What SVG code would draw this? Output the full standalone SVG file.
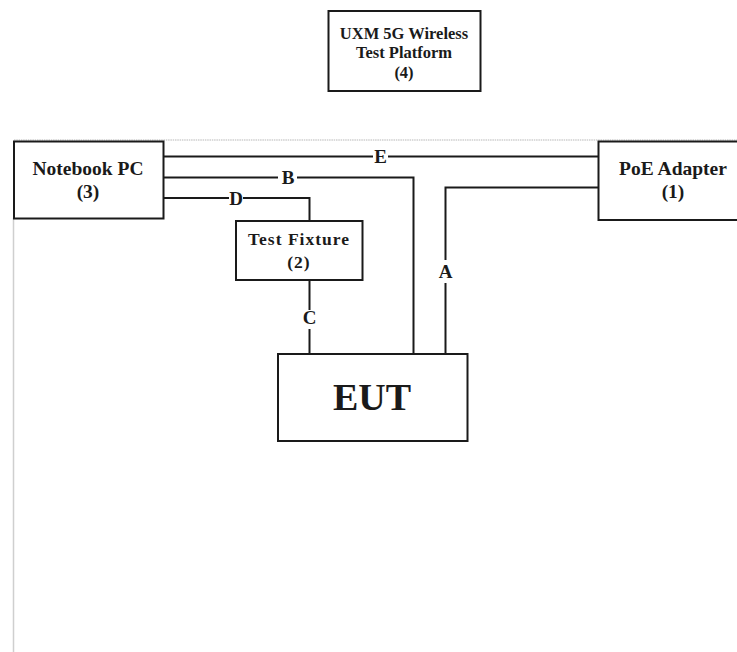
<svg xmlns="http://www.w3.org/2000/svg" width="737" height="652" viewBox="0 0 737 652">
<style>
.box{fill:#fff;stroke:#1a1a1a;stroke-width:2}
.t{font-family:"Liberation Serif","Times New Roman",serif;font-weight:bold;fill:#1a1a1a;text-anchor:middle}
.lb{font-size:19px}
.w{fill:none;stroke:#1a1a1a;stroke-width:2}
.g{fill:none;stroke:#cfcfcf;stroke-width:1.5}
</style>
<rect width="737" height="652" fill="#fff"/>
<g id="frame">
<line class="g" x1="14" y1="140" x2="737" y2="140" stroke-dasharray="1.5 0.8"/>
<line class="g" x1="13.5" y1="218" x2="13.5" y2="652"/>
</g>
<g id="connectors">
<path class="w" d="M164 156.5H373M388 156.5H598"/>
<path class="w" d="M164 177.5H278M297 177.5H413.5V354"/>
<path class="w" d="M164 198H229M243 198H309.5V221"/>
<path class="w" d="M309.5 280V310M309.5 329V354"/>
<path class="w" d="M598 187.5H445.5V260M445.5 283V354"/>
<text class="t lb" x="380.5" y="163">E</text>
<text class="t lb" x="288" y="184">B</text>
<text class="t lb" x="236" y="204.5">D</text>
<text class="t lb" x="309.5" y="323.5">C</text>
<text class="t lb" x="445.5" y="278">A</text>
</g>
<g id="uxm">
<rect class="box" x="328.5" y="11" width="152" height="80"/>
<text class="t" x="404" y="38.5" font-size="16.5">UXM 5G Wireless</text>
<text class="t" x="404" y="58" font-size="16.5">Test Platform</text>
<text class="t" x="404" y="77.5" font-size="16.5">(4)</text>
</g>
<g id="notebook">
<rect class="box" x="14" y="141.5" width="149.5" height="77"/>
<text class="t" x="88" y="174.5" font-size="19.5">Notebook PC</text>
<text class="t" x="88" y="197.5" font-size="19.5">(3)</text>
</g>
<g id="poe">
<rect class="box" x="598.5" y="141.5" width="140" height="78.5"/>
<text class="t" x="673" y="174.5" font-size="19.5">PoE Adapter</text>
<text class="t" x="673" y="197.5" font-size="19.5">(1)</text>
</g>
<g id="fixture">
<rect class="box" x="236" y="221" width="126.5" height="59"/>
<text class="t" x="299" y="245" font-size="17.5" letter-spacing="1">Test Fixture</text>
<text class="t" x="299" y="267.5" font-size="17.5" letter-spacing="1">(2)</text>
</g>
<g id="eut">
<rect class="box" x="278" y="354" width="189.5" height="87"/>
<text class="t" x="372" y="409.5" font-size="38">EUT</text>
</g>
</svg>
